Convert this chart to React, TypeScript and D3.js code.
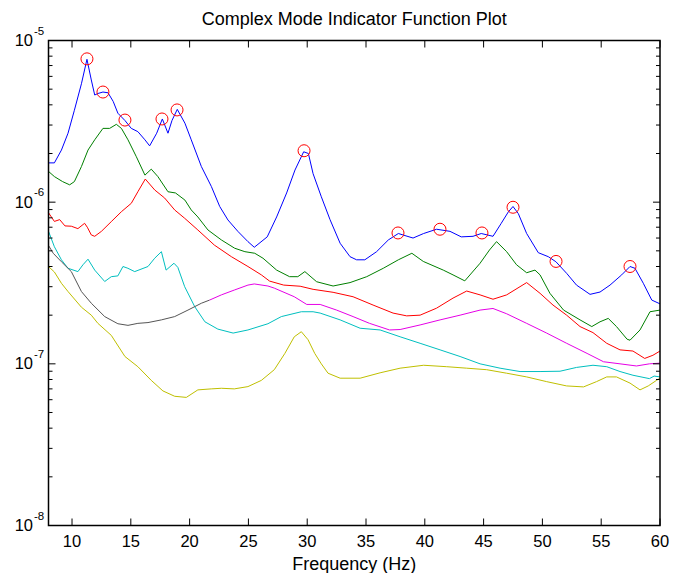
import * as d3 from 'd3';
import React from 'react';

// frequency (Hz) / singular value pairs
const blueF = [8, 8.5, 9.1, 9.66, 10.2, 10.8, 11.27, 11.64, 11.93, 12.2, 12.63, 13.06, 13.5, 13.9, 14.5, 15.04, 15.6, 16.2, 16.6, 17.2, 17.68, 18.16, 18.5, 18.95, 19.6, 20.14, 21, 21.85, 22.56, 23.26, 24.1, 24.96, 25.5, 26.6, 27.4, 28.25, 28.96, 29.7, 30.1, 30.5, 31.2, 31.94, 32.8, 33.64, 34.2, 34.9, 35.9, 36.9, 37.75, 38.2, 39.0, 39.9, 41.0, 42.14, 43.1, 44.1, 44.8, 45.8, 46.5, 47.1, 47.5, 47.95, 48.66, 49.65, 50.5, 51.15, 52.06, 52.9, 54.05, 54.9, 55.75, 56.74, 57.45, 57.87, 58.58, 59.3, 60];
const blueV = [1.75e-6, 1.75e-6, 2.1e-6, 2.67e-6, 3.7e-6, 5.4e-6, 7.65e-6, 5.7e-6, 4.6e-6, 4.7e-6, 4.8e-6, 4.75e-6, 4.2e-6, 3.55e-6, 3.2e-6, 2.86e-6, 2.73e-6, 2.43e-6, 2.23e-6, 2.67e-6, 3.27e-6, 2.67e-6, 3.2e-6, 3.75e-6, 3.08e-6, 2.43e-6, 1.66e-6, 1.25e-6, 9.4e-7, 7.76e-7, 6.6e-7, 5.7e-7, 5.26e-7, 6.1e-7, 8.1e-7, 1.14e-6, 1.58e-6, 2.05e-6, 2.0e-6, 1.5e-6, 1.08e-6, 7.8e-7, 5.57e-7, 4.6e-7, 4.4e-7, 4.4e-7, 4.94e-7, 5.84e-7, 6.4e-7, 6.25e-7, 6.0e-7, 6.4e-7, 6.8e-7, 6.6e-7, 6.1e-7, 6.15e-7, 6.4e-7, 6.15e-7, 7.4e-7, 8.7e-7, 9.4e-7, 8.5e-7, 6.4e-7, 4.87e-7, 4.6e-7, 4.28e-7, 3.63e-7, 3.07e-7, 2.69e-7, 2.78e-7, 3.07e-7, 3.55e-7, 4.0e-7, 3.9e-7, 3.15e-7, 2.48e-7, 2.35e-7];

const greenF = [8, 8.5, 9.2, 9.8, 10.2, 10.8, 11.36, 11.93, 12.63, 13.2, 13.77, 14.2, 14.76, 15.47, 16.2, 16.74, 17.3, 18.16, 18.8, 19.6, 20.14, 20.7, 21.56, 22.7, 23.83, 24.7, 25.54, 26.24, 27.4, 28.5, 29.2, 29.8, 30.8, 32.2, 33.64, 35.06, 36.47, 37.75, 38.9, 39.87, 41.57, 42.4, 43.4, 44.7, 45.5, 46.1, 46.96, 47.8, 48.66, 49.37, 49.8, 50.64, 51.8, 53.2, 54.2, 54.9, 55.6, 56.3, 57.2, 57.45, 58.3, 59.15, 60];
const greenV = [1.55e-6, 1.44e-6, 1.34e-6, 1.28e-6, 1.34e-6, 1.66e-6, 2.1e-6, 2.43e-6, 2.86e-6, 2.86e-6, 3.03e-6, 2.86e-6, 2.43e-6, 1.91e-6, 1.47e-6, 1.6e-6, 1.44e-6, 1.16e-6, 1.14e-6, 1.03e-6, 8.95e-7, 8.1e-7, 6.73e-7, 5.84e-7, 5.19e-7, 4.94e-7, 4.83e-7, 4.5e-7, 3.8e-7, 3.46e-7, 3.46e-7, 3.72e-7, 3.22e-7, 3.03e-7, 3.18e-7, 3.46e-7, 3.9e-7, 4.4e-7, 4.83e-7, 4.3e-7, 3.8e-7, 3.55e-7, 3.26e-7, 4.19e-7, 5.06e-7, 5.7e-7, 4.94e-7, 4.1e-7, 3.66e-7, 3.8e-7, 3.55e-7, 2.73e-7, 2.15e-7, 1.87e-7, 1.7e-7, 1.82e-7, 1.91e-7, 1.7e-7, 1.42e-7, 1.4e-7, 1.62e-7, 2.1e-7, 2.15e-7];

const redF = [8, 8.5, 8.95, 9.4, 9.94, 10.5, 11.07, 11.3, 11.64, 11.93, 12.5, 13.34, 14.2, 15.04, 15.6, 16.23, 17.03, 17.88, 18.73, 19.58, 20.7, 22.1, 23.55, 24.96, 26.1, 26.8, 28, 29.4, 30.5, 32.2, 33.9, 35.6, 37.3, 38.46, 39.6, 41, 42.4, 43.56, 44.7, 45.8, 46.96, 48.66, 49.8, 50.9, 52.06, 53.2, 54.3, 55.47, 56.6, 57.7, 58.7, 59.4, 60];
const redV = [8.6e-7, 7.6e-7, 7.8e-7, 7.13e-7, 7.1e-7, 6.86e-7, 7.4e-7, 7.0e-7, 6.27e-7, 6.15e-7, 6.6e-7, 7.58e-7, 8.73e-7, 9.84e-7, 1.16e-6, 1.39e-6, 1.19e-6, 1.06e-6, 8.95e-7, 7.95e-7, 6.73e-7, 5.43e-7, 4.6e-7, 4.0e-7, 3.55e-7, 3.25e-7, 3.07e-7, 3.02e-7, 2.89e-7, 2.77e-7, 2.6e-7, 2.31e-7, 2.06e-7, 1.98e-7, 2.0e-7, 2.21e-7, 2.55e-7, 2.82e-7, 2.67e-7, 2.51e-7, 2.67e-7, 3.18e-7, 2.73e-7, 2.31e-7, 2.0e-7, 1.7e-7, 1.56e-7, 1.34e-7, 1.22e-7, 1.2e-7, 1.08e-7, 1.13e-7, 1.2e-7];

const cyanF = [8, 8.5, 9.1, 9.66, 10.5, 10.93, 11.36, 11.93, 12.78, 13.34, 13.9, 14.33, 14.75, 15.33, 16.46, 17.03, 17.6, 18.0, 18.67, 19.0, 19.58, 20.43, 21.3, 22.4, 23.7, 24.96, 26.66, 27.8, 29.5, 30.5, 31.1, 32.8, 34.5, 36.2, 37.9, 39.6, 41.3, 43, 44.7, 46.4, 48.1, 49.8, 51.5, 52.9, 54.3, 55.47, 56.6, 57.7, 59.1, 59.5, 60];
const cyanV = [6.6e-7, 5.3e-7, 4.4e-7, 3.9e-7, 3.72e-7, 4.1e-7, 4.44e-7, 3.8e-7, 3.23e-7, 3.46e-7, 3.5e-7, 4.0e-7, 3.9e-7, 3.72e-7, 4.0e-7, 4.5e-7, 4.94e-7, 3.8e-7, 4.19e-7, 3.95e-7, 3.0e-7, 2.26e-7, 1.82e-7, 1.64e-7, 1.55e-7, 1.62e-7, 1.77e-7, 1.96e-7, 2.1e-7, 2.1e-7, 2.06e-7, 1.87e-7, 1.66e-7, 1.62e-7, 1.47e-7, 1.34e-7, 1.22e-7, 1.11e-7, 1.0e-7, 9.4e-8, 8.96e-8, 8.96e-8, 9.0e-8, 9.5e-8, 9.8e-8, 9.6e-8, 8.96e-8, 8.5e-8, 8.1e-8, 8.4e-8, 8.3e-8];

const grayF = [8, 8.4, 9.1, 9.94, 10.8, 11.64, 12.78, 13.9, 14.76, 15.6, 16.46, 17.6, 18.73, 19.86, 21, 21.7];
const grayV = [5.4e-7, 4.83e-7, 4.28e-7, 3.72e-7, 2.8e-7, 2.37e-7, 1.96e-7, 1.77e-7, 1.73e-7, 1.78e-7, 1.8e-7, 1.87e-7, 1.96e-7, 2.15e-7, 2.37e-7, 2.48e-7];

const magentaF = [21.7, 22.7, 23.8, 24.96, 25.5, 26.66, 27.2, 28.9, 29.96, 31.1, 32.5, 33.9, 35.3, 37.0, 37.9, 39.6, 41.3, 43, 44.7, 45.8, 46.96, 48.66, 50.36, 52.06, 53.8, 55.2, 56.6, 58.0, 59.1, 60];
const magentaV = [2.48e-7, 2.67e-7, 2.86e-7, 3.07e-7, 3.12e-7, 3.03e-7, 2.94e-7, 2.6e-7, 2.33e-7, 2.33e-7, 2.15e-7, 1.96e-7, 1.78e-7, 1.62e-7, 1.63e-7, 1.74e-7, 1.87e-7, 2.0e-7, 2.15e-7, 2.2e-7, 2.04e-7, 1.78e-7, 1.55e-7, 1.34e-7, 1.16e-7, 1.03e-7, 1.0e-7, 9.7e-8, 1.0e-7, 1.01e-7];

const yellowF = [8, 8.5, 9.1, 9.66, 10.8, 11.64, 12.2, 13.34, 14.5, 15.6, 16.74, 17.73, 18.73, 19.72, 20.7, 21.84, 22.7, 23.8, 24.96, 26.1, 27.2, 28.1, 28.9, 29.5, 30.07, 30.64, 31.2, 31.77, 32.8, 34.5, 36.2, 37.9, 39.9, 41.86, 43.56, 45.26, 46.96, 48.66, 50.36, 52.06, 53.5, 54.6, 55.47, 56.3, 57.45, 58.3, 59.0, 59.7, 60];
const yellowV = [4.0e-7, 3.7e-7, 3.15e-7, 2.8e-7, 2.24e-7, 2.0e-7, 1.78e-7, 1.5e-7, 1.11e-7, 9.6e-8, 7.9e-8, 6.8e-8, 6.3e-8, 6.2e-8, 6.9e-8, 7.0e-8, 7.06e-8, 7.0e-8, 7.23e-8, 7.9e-8, 9.2e-8, 1.16e-7, 1.47e-7, 1.58e-7, 1.41e-7, 1.16e-7, 1.0e-7, 8.75e-8, 8.15e-8, 8.15e-8, 8.8e-8, 9.4e-8, 9.8e-8, 9.6e-8, 9.4e-8, 9.2e-8, 8.75e-8, 8.3e-8, 7.76e-8, 7.3e-8, 7.2e-8, 7.76e-8, 8.3e-8, 8.3e-8, 7.6e-8, 6.9e-8, 7.3e-8, 7.9e-8, 8.15e-8];

// picked peaks (red circles)
const peakF = [11.27, 12.63, 14.5, 17.65, 18.93, 29.73, 37.72, 41.29, 44.86, 47.5, 51.16, 57.45];
const peakV = [7.7e-6, 4.8e-6, 3.22e-6, 3.27e-6, 3.72e-6, 2.08e-6, 6.45e-7, 6.8e-7, 6.45e-7, 9.3e-7, 4.3e-7, 4.0e-7];

const xTicks = [10, 15, 20, 25, 30, 35, 40, 45, 50, 55, 60];
const yDecades = [-8, -7, -6, -5];

const series = [
  { f: blueF, v: blueV, color: '#0000ff' },
  { f: greenF, v: greenV, color: '#007f00' },
  { f: redF, v: redV, color: '#ff0000' },
  { f: cyanF, v: cyanV, color: '#00bfbf' },
  { f: grayF, v: grayV, color: '#555555' },
  { f: magentaF, v: magentaV, color: '#e600e6' },
  { f: yellowF, v: yellowV, color: '#bfbf00' },
];

const W = 675;
const H = 573;
const left = 48.5;
const right = 660;
const top = 40.5;
const bottom = 525.5;
const font = 'Arial, "Liberation Sans", Helvetica, sans-serif';

export default function App() {
  const x = d3.scaleLinear().domain([8, 60]).range([left, right]);
  const y = d3.scaleLog().domain([1e-8, 1e-5]).range([bottom, top]);

  const line = d3
    .line<[number, number]>()
    .x((d) => x(d[0]))
    .y((d) => y(d[1]));

  const minor: number[] = [];
  for (let e = -8; e < -5; e++) {
    for (let m = 2; m <= 9; m++) minor.push(m * Math.pow(10, e));
  }

  return (
    <svg
      width={W}
      height={H}
      style={{ position: 'absolute', left: 0, top: 0, background: '#fff' }}
      fontFamily={font}
    >
      <rect width={W} height={H} fill="#fff" />
      <g>
        {series.map((s, i) => (
          <path
            key={i}
            d={line(s.f.map((f, j) => [f, s.v[j]] as [number, number])) || ''}
            fill="none"
            stroke={s.color}
            strokeWidth={1}
          />
        ))}
        {peakF.map((f, i) => (
          <circle key={i} cx={x(f)} cy={y(peakV[i])} r={6} fill="none" stroke="#ff0000" strokeWidth={1} />
        ))}
      </g>

      {/* frame */}
      <rect
        x={left}
        y={top}
        width={right - left}
        height={bottom - top}
        fill="none"
        stroke="#000"
        strokeWidth={1.5}
      />

      {/* x ticks */}
      {xTicks.map((t) => (
        <g key={t}>
          <line x1={x(t)} x2={x(t)} y1={bottom} y2={bottom - 7} stroke="#000" />
          <line x1={x(t)} x2={x(t)} y1={top} y2={top + 7} stroke="#000" />
          <text x={x(t)} y={547} textAnchor="middle" fontSize={16.5}>
            {t}
          </text>
        </g>
      ))}

      {/* y ticks */}
      {yDecades.map((e) => {
        const yy = y(Math.pow(10, e));
        return (
          <g key={e}>
            <line x1={left} x2={left + 7} y1={yy} y2={yy} stroke="#000" />
            <line x1={right} x2={right - 7} y1={yy} y2={yy} stroke="#000" />
            <text x={33} y={yy + 5.5} textAnchor="end" fontSize={16.5}>
              10
            </text>
            <text x={34} y={yy - 6} fontSize={11.5}>
              {e}
            </text>
          </g>
        );
      })}
      {minor.map((m, i) => (
        <g key={i}>
          <line x1={left} x2={left + 4} y1={y(m)} y2={y(m)} stroke="#000" />
          <line x1={right} x2={right - 4} y1={y(m)} y2={y(m)} stroke="#000" />
        </g>
      ))}

      <text x={(left + right) / 2} y={25} textAnchor="middle" fontSize={18}>
        Complex Mode Indicator Function Plot
      </text>
      <text x={(left + right) / 2} y={570} textAnchor="middle" fontSize={18}>
        Frequency (Hz)
      </text>
    </svg>
  );
}
